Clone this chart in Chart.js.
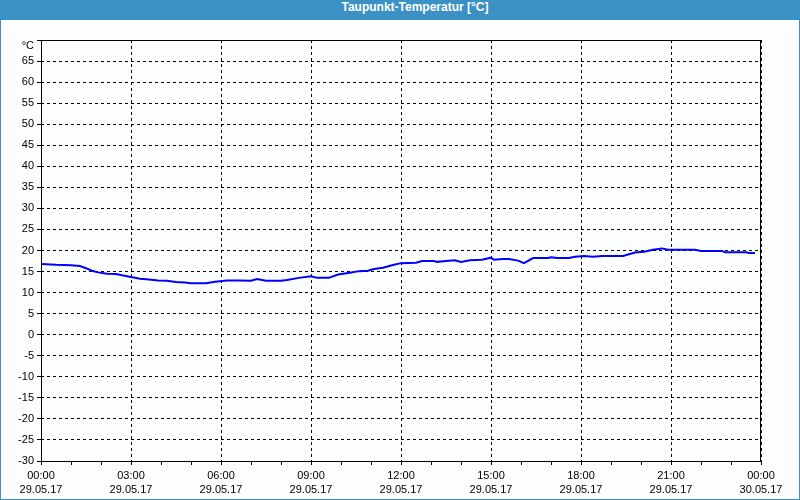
<!DOCTYPE html>
<html>
<head>
<meta charset="utf-8">
<script src="https://cdn.jsdelivr.net/npm/chart.js@4"></script>
<style>
  html, body { margin: 0; padding: 0; background: #fcfefd; }
  .titel {
    height: 20px; line-height: 20px; background: #3b91c4; color: #fff; width: 800px; position: relative;
    font: bold 12px "Liberation Sans", Arial, sans-serif;
  }
  .titel span { position: absolute; left: 415px; top: 0; transform: translateX(-50%); white-space: nowrap; }
  .rahmen {
    width: 798px; height: 479px; border: 1px solid #3b91c4; border-top: none;
    position: relative; background: #fcfefd;
  }
</style>
</head>
<body>
<div class="titel"><span>Taupunkt-Temperatur [°C]</span></div>
<div class="rahmen"><canvas id="grafico" width="798" height="479"></canvas></div>
<script>
// Messwerte (Stunden seit 29.05.17 00:00, Taupunkt in °C)
const stunden = [0.0, 0.5, 1.0, 1.3, 1.5, 1.7, 1.9, 2.2, 2.5, 2.7, 3.0, 3.3, 3.6, 3.9, 4.2, 4.5, 4.8, 5.0, 5.5, 5.8,
  6.2, 6.6, 7.0, 7.2, 7.5, 8.0, 8.2, 8.6, 9.0, 9.2, 9.6, 9.9, 10.3, 10.6, 10.9, 11.1, 11.4, 11.7, 12.0, 12.5,
  12.7, 13.1, 13.2, 13.5, 13.8, 14.0, 14.3, 14.7, 15.0, 15.1, 15.4, 15.6, 15.9, 16.1, 16.4, 16.9, 17.0, 17.2, 17.6, 17.8,
  18.1, 18.4, 18.7, 19.4, 19.6, 19.8, 20.1, 20.4, 20.7, 20.9, 21.8, 22.0, 22.7, 22.8, 23.5, 23.6, 23.8];
const taupunkt = [16.8, 16.6, 16.5, 16.3, 15.8, 15.2, 14.8, 14.5, 14.4, 14.1, 13.7, 13.3, 13.1, 12.9, 12.8, 12.5, 12.4, 12.2, 12.2, 12.6,
  12.9, 12.9, 12.8, 13.2, 12.8, 12.8, 13.0, 13.5, 13.9, 13.5, 13.5, 14.3, 14.7, 15.1, 15.2, 15.6, 15.9, 16.5, 17.0, 17.1,
  17.5, 17.5, 17.3, 17.5, 17.7, 17.3, 17.7, 17.8, 18.3, 17.8, 18.0, 18.0, 17.6, 17.0, 18.2, 18.2, 18.4, 18.2, 18.2, 18.5,
  18.7, 18.5, 18.7, 18.7, 19.1, 19.5, 19.7, 20.2, 20.5, 20.2, 20.2, 19.9, 19.9, 19.6, 19.6, 19.4, 19.4];

// Achsenbeschriftungen
const zeitLabels = ['00:00', '03:00', '06:00', '09:00', '12:00', '15:00', '18:00', '21:00', '00:00'];
const datumLabels = ['29.05.17', '29.05.17', '29.05.17', '29.05.17', '29.05.17', '29.05.17', '29.05.17', '29.05.17', '30.05.17'];
const yMin = -30;
const yMax = 70;
const yEinheit = '°C';

const schrift = { family: '"Liberation Sans", Arial, sans-serif', size: 11, lineHeight: 1.36 };

// Rahmen um den Plotbereich und Einheit oben links
const rahmenPlugin = {
  id: 'rahmen',
  afterDraw(chart) {
    const { ctx, chartArea } = chart;
    ctx.save();
    ctx.strokeStyle = '#000';
    ctx.lineWidth = 1;
    ctx.setLineDash([]);
    ctx.strokeRect(chartArea.left + 0.5, chartArea.top + 0.5, chartArea.right - chartArea.left - 1, chartArea.bottom - chartArea.top);
    ctx.fillStyle = '#000';
    ctx.font = '11px "Liberation Sans", Arial, sans-serif';
    ctx.textAlign = 'right';
    ctx.textBaseline = 'middle';
    ctx.fillText(yEinheit, chartArea.left - 7, chartArea.top + 6);
    ctx.restore();
  }
};

const puntos = stunden.map((h, i) => ({ x: h, y: taupunkt[i] }));

new Chart(document.getElementById('grafico'), {
  type: 'line',
  data: {
    datasets: [{
      data: puntos,
      borderColor: '#0000ff',
      borderWidth: 2,
      pointRadius: 0,
      tension: 0,
      fill: false
    }]
  },
  options: {
    responsive: false,
    animation: false,
    layout: { padding: { top: 20, right: 38, left: 0, bottom: 0 } },
    plugins: {
      legend: { display: false },
      tooltip: { enabled: false }
    },
    scales: {
      x: {
        type: 'linear',
        min: 0,
        max: 24,
        afterFit(scale) { scale.height = 38; },
        afterBuildTicks(scale) {
          const t = [];
          for (let h = 0; h <= 24; h++) t.push({ value: h });
          scale.ticks = t;
        },
        ticks: {
          autoSkip: false,
          maxRotation: 0,
          padding: 3,
          color: '#000',
          font: schrift,
          callback: function(value) {
            if (value % 3 !== 0) return '';
            const i = value / 3;
            return [zeitLabels[i], datumLabels[i]];
          }
        },
        grid: {
          color: (c) => (c.tick && c.tick.value % 3 === 0 ? '#000' : 'rgba(0,0,0,0)'),
          tickColor: '#000',
          tickLength: 4,
          lineWidth: 1
        },
        border: { display: false, dash: [3, 3] }
      },
      y: {
        min: yMin,
        max: yMax,
        afterFit(scale) { scale.width = 40; },
        ticks: {
          stepSize: 5,
          padding: 3,
          color: '#000',
          font: schrift,
          callback: function(value) {
            return value === yMax ? '' : value;
          }
        },
        grid: {
          color: '#000',
          tickColor: '#000',
          tickLength: 4,
          lineWidth: 1
        },
        border: { display: false, dash: [3, 3] }
      }
    }
  },
  plugins: [rahmenPlugin]
});
</script>
</body>
</html>
